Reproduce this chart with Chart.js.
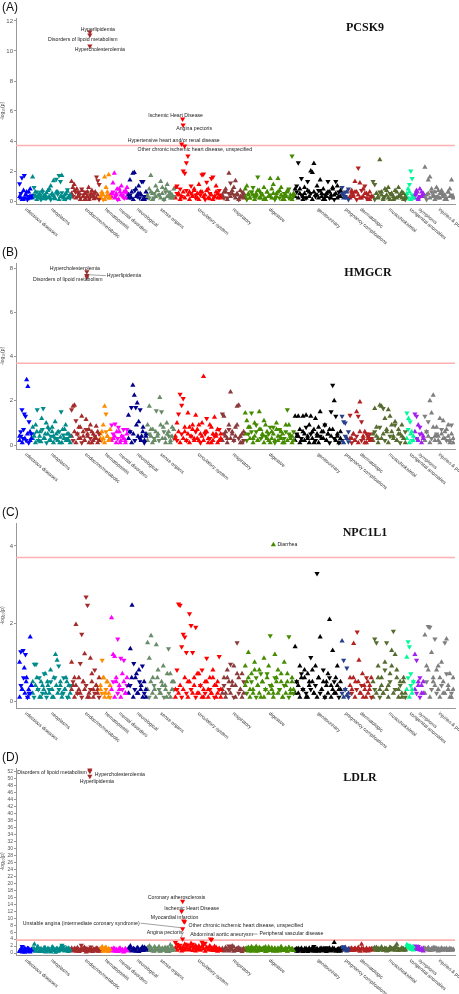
<!DOCTYPE html>
<html>
<head>
<meta charset="utf-8">
<script src="https://cdn.jsdelivr.net/npm/chart.js@4.4.0/dist/chart.umd.min.js"></script>
<style>
  body { margin: 0; background: #fff; font-family: Arial, "Liberation Sans", sans-serif; }
  #wrap { position: relative; width: 459px; height: 994px; overflow: hidden; }
  .panel { position: absolute; left: 0; width: 459px; }
  .tag { position: absolute; left: 2px; top: 1px; font-size: 12px; line-height: 12px; color: #111; }
  .gene { position: absolute; top: 21px; font-family: "Liberation Serif", "DejaVu Serif", serif;
          font-weight: bold; font-size: 12px; line-height: 12px; transform: translateX(-50%); color: #111; }
</style>
</head>
<body>
<div id="wrap"></div>
<script>
const categories = ["infectious diseases", "neoplasms", "endocrine/metabolic", "hematopoietic",
  "mental disorders", "neurological", "sense organs", "circulatory system", "respiratory",
  "digestive", "genitourinary", "pregnancy complications", "dermatologic", "musculoskeletal",
  "congenital anomalies", "symptoms", "injuries & poisonings"];
const categoryColors = ["#0000FF", "#008B8B", "#A52A2A", "#FF8C00", "#FF00FF", "#00008B", "#698B69",
  "#FF0000", "#8B3A3A", "#458B00", "#000000", "#27408B", "#B22222", "#556B2F", "#00FA9A",
  "#A020F0", "#7F7F7F"];
// number of phecode slots each category takes on the x axis
const categorySpan = [13, 39, 29, 11, 17, 19, 28, 47, 23, 50, 47, 8, 23, 34, 8, 10, 30];
const axisStart = 3;
const axisEnd = 440;
const threshold = 3.7;

// -log10(p) per phenotype, one list per category; sign = direction (+ up, - down triangle)
// the "...Low" lists hold the dense cloud of weak associations at the bottom
const pcsk9Values = [
  [-1.15, 0.2, -1.55, 0.1, -1.7, 0.4, 0.6, 0.15, -0.3, 0.8, 0.25],
  [1.6, -0.9, 0.3, -0.6, 0.2, 0.45, -0.1, 0.7, 0.35, -0.2, 0.55, -0.25, 0.8, 1.0, -0.4, 1.35, 0.15, -1.45, 0.6, -1.7, -1.3, 1.7, -0.3, 0.1, 0.5, -0.75, 0.2, 0.4],
  [1.3, 0.9, 1.1, -0.6, 0.8, 0.3, 0.5, -0.2, 0.7, -0.4, 0.1, -0.6, 0.35, 0.9, -0.2, 0.5, 0.3, 0.15, 0.6, -1.6, -1.35, -1.1],
  [0.3, 0.6, -0.1, 1.6, 0.9, 0.4, 1.75, 0.2],
  [0.5, 1.2, 1.85, -0.3, 0.8, 0.1, 0.6, 1.0, -0.4, -0.2, 0.7, 0.9],
  [0.4, 1.4, 0.2, 1.85, 1.9, 0.8, -0.3, 1.0, 0.5, -1.3, -1.3, 0.1, 0.6],
  [0.3, 0.8, 1.7, 0.5, -0.2, 1.0, 0.7, 0.4, 1.3, 0.9, 0.1, -0.6, 1.1, 0.3, 0.5, 0.2, 0.8],
  [0.9, -1.0, 0.5, -0.8, 0.3, -2.0, -1.85, -2.55, -3.0, 0.6, -1.0, 0.3, 0.7, -0.4, 0.2, 1.1, 0.6, -1.75, -1.8, 0.4, -1.25, 0.8, 0.15, -1.5, -1.6, 0.3, 1.0, 0.5, -0.7, 0.2],
  [0.3, 0.6, 0.8, -0.2, 1.85, -1.2, 0.5, 0.9, 1.35, 0.4, 0.1, 0.7, -0.3, 0.5],
  [0.8, 1.0, 0.4, 0.2, -0.6, -0.9, 0.3, 0.5, -1.6, 0.7, 0.2, 0.4, 0.9, 0.1, 0.6, 0.3, 1.5, 0.8, 1.1, 0.2, 0.5, 1.5, 0.7, 0.9, -0.3, 0.1, 0.4, 0.6, -0.8, 0.2, -3.0, 0.5],
  [0.8, -1.0, -2.55, 0.5, -1.5, 0.3, 0.9, 0.2, -1.3, 0.6, 2.0, 1.9, 2.5, 0.4, 1.0, -0.7, 1.4, 0.3, 0.8, 0.1, 0.5, -1.3, 0.6, 0.2, 0.9, 0.4, -1.3, 1.0, 0.3, 0.7],
  [-0.9, 0.4, -0.6, 0.2, -0.8],
  [0.3, 0.7, 0.4, 1.3, 0.6, -2.2, 1.2, 0.2, 0.8, -1.0, 0.5, 0.1, 0.6, 0.3],
  [-1.3, -1.1, 0.5, 0.3, 2.75, 0.6, 0.2, 0.8, 0.4, 0.9, 0.1, 0.5, 0.3, 0.7, 0.2, 0.9, 0.4, 0.6, 0.1, 0.3],
  [0.3, 0.8, -1.1, -2.0, -1.5, 0.2],
  [0.4, 0.7, 0.2, 0.8, 0.3, 0.5],
  [2.25, 0.4, 1.4, 1.6, 0.8, 0.3, 0.6, 0.9, 0.2, 0.5, 0.7, 0.3, 0.4, 0.1, 0.6, 0.8, 1.4, 0.3]
];
const pcsk9Low = [
  [0.3, -0.5, 0.1, 0.7, -0.2, 0.4, -0.1, 0.6, 0.2, -0.35],
  [0.2, -0.4, 0.6, 0.1, -0.3, 0.5, 0.25, -0.6, 0.15, 0.4, -0.2, 0.7, 0.3, -0.1, 0.5, -0.35, 0.2, 0.6, -0.45, 0.1, 0.3, -0.55, 0.2, 0.4, -0.15, 0.65, 0.3, -0.2],
  [0.5, -0.3, 0.7, 0.2, -0.6, 0.4, 0.1, -0.8, 0.3, 0.5, -0.2, 0.6, 0.1, -0.4, 0.7, 0.3, -0.5, 0.2, 0.4, -0.1],
  [0.2, -0.5, 0.4, 0.1, -0.3, 0.6, 0.2, -0.4],
  [0.3, -0.6, 0.2, 0.5, -0.1, 0.8, 0.4, -0.3, 0.6, 0.2, -0.5],
  [0.2, -0.4, 0.6, 0.1, -0.7, 0.3, 0.5, -0.2, 0.4, 0.1, -0.3, 0.2],
  [0.4, -0.2, 0.6, 0.1, -0.5, 0.3, 0.7, -0.4, 0.2, 0.5, -0.1, 0.8, 0.3, -0.6, 0.2, 0.4, -0.3],
  [0.2, -0.5, 0.4, 0.1, -0.3, 0.6, 0.2, -0.7, 0.4, 0.1, -0.5, 0.3, 0.8, -0.2, 0.5, 0.1, -0.4, 0.6, 0.3, -0.1, 0.7, 0.2, -0.5, 0.4, 0.1, -0.3, 0.6, 0.2, -0.4, 0.3],
  [0.4, -0.2, 0.6, 0.1, -0.5, 0.3, 0.7, -0.4, 0.2, 0.5, -0.1, 0.3, -0.6, 0.2],
  [0.3, -0.1, 0.5, 0.2, -0.6, 0.4, 0.1, -0.3, 0.7, 0.2, -0.5, 0.4, 0.1, -0.2, 0.6, 0.3, -0.4, 0.2, 0.5, -0.1, 0.3, 0.6, -0.2, 0.4, 0.1, -0.5, 0.3, 0.7, -0.2, 0.4, 0.1, -0.3],
  [0.3, -0.6, 0.2, 0.8, -0.4, 0.1, 0.5, -0.2, 0.7, 0.3, -0.5, 0.1, 0.6, -0.3, 0.4, 0.2, -0.7, 0.5, 0.1, -0.4, 0.3, 0.6, -0.2, 0.4, 0.8, -0.1, 0.5, 0.2, -0.6, 0.3],
  [-0.5, 0.2, -0.3, 0.6, -0.1],
  [0.2, -0.5, 0.3, 0.6, -0.1, 0.4, 0.2, -0.7, 0.3, 0.5, -0.2, 0.4, 0.1, -0.3],
  [0.3, -0.1, 0.5, 0.2, -0.6, 0.4, 0.1, -0.3, 0.7, 0.2, -0.5, 0.4, 0.1, -0.2, 0.6, 0.3, -0.4, 0.2, 0.5, -0.1],
  [0.5, -0.2, 0.6, 0.1, -0.4, 0.3],
  [0.2, -0.5, 0.1, -0.3, 0.6, 0.4],
  [0.3, -0.1, 0.5, 0.2, -0.6, 0.4, 0.1, -0.3, 0.7, 0.2, -0.5, 0.4, 0.1, -0.2, 0.6, 0.3, -0.4, 0.2]
];
const hmgcrValues = [
  [0.4, -0.6, -1.6, -0.3, -1.4, -1.3, 2.95, 2.65, -1.05, 0.2, -0.5],
  [0.8, 0.4, 0.9, -1.6, 0.2, 0.6, 1.2, -1.65, 0.3, 1.0, 0.5, -0.7, 0.2, 0.8, 0.4, 1.05, -0.3, 0.6, 0.1, -1.5, 0.7, 0.3, 0.9, 0.5, 0.2, 0.4],
  [-1.6, 1.75, 1.8, -1.1, 0.5, 0.8, 0.3, 1.3, 0.6, 0.2, 1.15, 0.4, 0.7, 0.9, 0.1, 0.5, 0.3, 0.85, 0.6, 0.2],
  [0.3, 0.6, 0.9, 1.75, -1.4, 0.4, 0.2, 0.7],
  [-0.9, 0.3, -0.95, 0.6, -0.8, 0.1, 0.4, -0.7, 0.2, 0.5],
  [1.35, 0.6, -1.7, 2.7, 2.25, -1.7, 1.9, 1.05, -1.6, 0.4, 0.8, 0.2, 0.5],
  [0.9, 1.75, 0.4, 0.7, 0.2, -1.55, 0.5, 2.15, -1.5, 0.8, 0.3, 1.0, 0.6, 0.1, 0.4, 0.7],
  [0.3, 1.0, -1.4, -2.3, -1.8, -2.1, 0.6, 0.2, 1.45, 0.8, 0.4, 0.9, 0.3, 1.35, 0.7, 0.2, 0.5, 1.0, 3.1, 0.6, -1.2, 0.3, 0.9, 0.1, 0.5, 1.25, 0.4, 0.7, 0.2, 0.5],
  [-1.4, 1.3, 0.6, 0.3, 0.9, 2.4, 0.5, 0.2, 0.8, 1.75, 1.8, 0.4, 0.1, 0.6],
  [1.45, 1.1, -0.5, 0.8, -1.45, 0.3, 1.0, -0.6, 0.2, 1.5, 0.7, -0.4, 1.1, 0.9, 0.3, -0.5, 0.1, 0.6, -0.8, 0.2, 1.0, 0.4, -0.7, 0.3, 0.5, 0.1, -0.6, -1.6, 0.9, 0.3, 0.4, 0.2],
  [1.3, 0.4, 1.3, 0.7, 0.2, 1.3, 0.5, 1.35, 0.3, 0.9, 1.3, 0.6, 0.1, 1.2, 0.4, 0.8, 1.5, 0.3, 0.6, 0.9, 0.2, 0.5, 0.7, -1.5, -2.7, 2.0, -1.3, 0.4, 0.1, 0.6],
  [-1.3, -1.05, -1.0, 0.3, -0.6],
  [-1.35, 0.3, 0.5, 0.2, 1.5, -1.3, 1.95, -1.05, 0.4, 0.6, 0.1, 0.3, -0.5, 0.2],
  [0.5, 1.65, 0.8, 0.3, 1.8, 1.75, -1.65, 1.2, 0.6, 1.6, 1.3, 0.9, 0.4, 1.05, 0.2, 0.7, 0.5, 0.9, 0.3, 0.1],
  [-1.45, 1.2, -1.05, 0.6, 0.2],
  [-1.4, -1.3, 0.9, -0.8, 0.5, 0.3],
  [-1.3, 0.6, -1.05, 2.0, 1.45, 2.25, 0.4, 0.8, 0.2, 1.2, 0.5, 1.1, 0.3, 0.7, 0.9, 0.2, 0.5, 0.1]
];
const hmgcrLow = [
  [0.2, -0.4, 0.1, -0.7, 0.3, -0.2, 0.5, -0.1, 0.6, 0.3],
  [0.3, -0.5, 0.1, 0.6, -0.2, 0.4, 0.15, -0.7, 0.3, 0.5, -0.1, 0.8, 0.2, -0.4, 0.6, 0.1, -0.3, 0.5, 0.2, -0.6, 0.35, 0.1, -0.45, 0.7, 0.2, -0.3, 0.5, 0.1],
  [0.4, -0.2, 0.6, 0.1, -0.5, 0.3, 0.8, -0.1, 0.4, 0.2, -0.7, 0.5, 0.1, -0.3, 0.6, 0.2, -0.4, 0.3, 0.1, -0.5],
  [0.5, -0.2, 0.3, 0.1, -0.6, 0.4, 0.2, -0.3],
  [0.2, -0.5, 0.4, 0.1, -0.3, 0.6, 0.2, -0.4, 0.3, 0.1, -0.7],
  [0.3, -0.6, 0.1, 0.5, -0.2, 0.9, 0.4, -0.3, 0.2, 0.6, -0.1, 0.4],
  [0.2, -0.5, 0.7, 0.1, -0.3, 0.6, 0.4, -0.2, 0.9, 0.3, -0.6, 0.1, 0.5, -0.4, 0.2, 0.8, -0.3],
  [0.4, -0.2, 0.6, 0.1, -0.5, 0.3, 0.8, -0.2, 0.5, 0.1, -0.4, 0.7, 0.2, -0.6, 0.3, 0.9, -0.1, 0.4, 0.2, -0.5, 0.6, 0.1, -0.3, 0.8, 0.2, -0.4, 0.5, 0.1, -0.7, 0.3],
  [0.2, -0.5, 0.4, 0.1, -0.7, 0.3, 0.6, -0.2, 0.4, 0.9, -0.3, 0.1, 0.5, -0.2],
  [0.5, -0.2, 0.8, 0.3, -0.6, 0.1, 0.4, -0.9, 0.2, 0.7, -0.3, 0.5, 0.1, -0.4, 0.6, 0.2, -0.8, 0.3, 0.5, -0.1, 0.7, 0.2, -0.4, 0.6, 0.1, -0.3, 0.9, 0.2, -0.5, 0.4, 0.1, -0.6],
  [0.2, -0.5, 0.4, 0.1, -0.3, 0.6, 0.2, -0.8, 0.4, 0.1, -0.5, 0.3, 0.7, -0.2, 0.5, 0.1, -0.4, 0.6, 0.3, -0.9, 0.2, 0.5, -0.1, 0.4, 0.7, -0.3, 0.2, 0.5, -0.1, 0.3],
  [-0.2, 0.1, -0.4, 0.3, -0.15],
  [0.3, -0.1, 0.5, 0.2, -0.4, 0.1, 0.6, -0.2, 0.3, 0.1, -0.5, 0.4, 0.2, -0.3],
  [0.2, -0.6, 0.4, 0.1, -0.8, 0.3, 0.5, -0.2, 0.7, 0.1, -0.4, 0.6, 0.3, -0.9, 0.2, 0.5, -0.1, 0.4, 0.3, -0.6],
  [0.3, -0.7, 0.1, 0.5, -0.2, 0.4],
  [0.6, -0.3, 0.2, -0.5, 0.1, 0.4],
  [0.2, -0.6, 0.4, 0.1, -0.3, 0.8, 0.2, -0.5, 0.4, 0.1, -0.7, 0.3, 0.6, -0.2, 0.4, 0.1, -0.9, 0.3]
];
const npc1l1Values = [
  [1.0, -1.27, 0.3, -1.3, 0.85, -1.2, 0.6, 0.1, -0.2, 1.65, 0.4],
  [0.5, -0.95, -0.95, 0.3, -0.6, 0.1, 0.4, -0.7, 0.2, 0.5, -0.3, 0.8, 0.1, 0.6, 1.2, 1.05, -0.9, 0.4, 0.2, -0.6, 0.3, 0.5, 0.1, -0.4],
  [1.0, 0.4, 0.6, 1.97, 0.2, 0.3, -0.97, -1.72, 0.5, 1.22, -2.68, -2.47, 0.1, 1.1, 0.7, 0.3, -0.8, 0.4, 0.2, 0.6],
  [0.3, -1.05, 0.6, 0.2, 0.5, 0.1, 0.4],
  [2.15, 1.2, 1.15, 0.5, -1.6, 0.3, -1.1, 0.7, -1.05, 0.2, 0.6],
  [0.4, 1.35, 2.47, -0.97, 0.6, 0.2, 0.8, 0.3, -0.9, 0.5, 0.1],
  [1.5, 1.1, 1.68, 0.6, 0.3, 1.45, 0.8, 0.2, 0.5, 0.9, 0.4, 0.1, -1.35, 0.7, 0.3, 0.5],
  [0.3, -0.8, -2.5, -2.47, -1.4, -1.72, -1.65, -1.25, 0.5, -2.25, -1.95, -1.25, 0.6, -1.9, 0.2, 0.7, 0.4, -0.8, 0.1, 0.5, -1.1, 0.3, 0.6, 0.2, 0.8, 0.4, 0.1, 0.5, -1.15, 0.3],
  [0.3, 0.6, 0.2, 0.8, 0.5, -0.95, 0.4, 0.9, 0.1, -1.5, 0.6, 0.3, 0.7, 0.2],
  [0.9, 0.5, 1.25, 0.3, 0.7, 0.2, 1.0, -0.6, 0.4, 0.8, 0.1, 0.5, 1.1, 0.3, -0.7, 0.9, -1.68, 0.4, 0.2, 1.2, 0.6, 0.8, -0.3, 0.5, 0.1, 1.0, 0.4, 0.7, -1.66, 0.2, 0.5, 0.3],
  [1.4, 0.5, 0.2, 0.9, 0.6, -0.3, 0.8, 0.1, 0.7, 0.4, -1.12, 0.5, 0.2, 0.9, -3.29, 0.6, 1.65, 0.3, -0.8, 0.1, 0.5, 0.7, 2.1, 0.4, 1.3, 0.2, 0.6, 0.9, 0.3, 0.5],
  [1.55, -1.05, 0.3, -0.85, 0.2],
  [0.6, 0.3, 1.48, 0.5, -1.78, 1.05, 0.2, 0.7, 0.4, 0.1, 0.5, 0.3, 0.6],
  [0.5, -1.6, -1.5, 0.9, 0.3, 0.6, 0.2, 1.0, -1.5, 0.4, 0.7, 1.3, -1.8, 1.2, 0.8, 0.3, 0.5, 0.1, 0.6, 0.2],
  [1.13, -1.53, -1.4, -0.7, 0.3, -0.5],
  [1.2, -1.05, 0.4, -0.6, 0.2, 0.5],
  [1.7, 0.9, -1.92, -1.9, 1.25, 0.5, -1.6, 0.8, 0.3, 0.6, 1.0, 0.2, -1.5, 1.6, 0.4, 0.7, 0.1, 0.3]
];
const npc1l1Low = [
  [0.1, -0.4, 0.3, -0.6, 0.2, 0.5, -0.1, 0.3, -0.2, 0.4],
  [0.2, -0.1, 0.4, 0.6, -0.3, 0.1, 0.5, -0.2, 0.3, 0.7, -0.1, 0.4, 0.2, -0.5, 0.3, 0.1, -0.6, 0.4, 0.2, -0.3, 0.5, 0.1, -0.2, 0.3, 0.6, -0.1, 0.4, 0.2],
  [0.3, -0.5, 0.1, 0.4, -0.2, 0.6, 0.2, -0.1, 0.5, 0.3, -0.4, 0.1, 0.2, -0.3, 0.5, 0.1, -0.2, 0.4, 0.3, -0.1],
  [0.4, -0.2, 0.6, 0.1, -0.3, 0.5, 0.2, -0.1],
  [0.3, -0.5, 0.1, 0.6, -0.2, 0.4, 0.1, -0.3, 0.5, 0.2, -0.4],
  [0.2, -0.4, 0.6, 0.1, -0.3, 0.7, 0.2, -0.5, 0.4, 0.1, -0.2, 0.3],
  [0.3, -0.1, 0.5, 0.2, -0.4, 0.1, 0.6, -0.3, 0.2, 0.4, -0.1, 0.3, 0.7, -0.2, 0.1, 0.5, -0.3],
  [0.1, -0.3, 0.2, 0.4, -0.1, 0.3, 0.6, -0.2, 0.1, 0.5, -0.3, 0.2, 0.4, -0.1, 0.7, 0.2, -0.4, 0.1, 0.3, -0.2, 0.5, 0.1, -0.3, 0.2, 0.6, -0.1, 0.4, 0.2, -0.3, 0.1],
  [0.2, -0.4, 0.1, 0.6, -0.3, 0.2, 0.5, -0.1, 0.4, 0.7, -0.2, 0.3, 0.1, -0.5],
  [0.4, -0.2, 0.6, 0.1, -0.5, 0.3, 0.8, -0.1, 0.4, 0.2, -0.7, 0.5, 0.1, -0.3, 0.6, 0.2, -0.4, 0.3, 0.1, -0.6, 0.5, 0.2, -0.3, 0.7, 0.1, -0.4, 0.2, 0.5, -0.1, 0.3, 0.6, -0.2],
  [0.2, -0.5, 0.4, 0.1, -0.7, 0.3, 0.6, -0.2, 0.1, 0.5, -0.3, 0.8, 0.2, -0.4, 0.1, 0.6, -0.2, 0.3, 0.5, -0.1, 0.4, 0.2, -0.6, 0.1, 0.3, -0.5, 0.2, 0.4, -0.1, 0.3],
  [-0.2, 0.1, -0.3, 0.15, -0.1],
  [0.4, -0.2, 0.6, 0.1, -0.3, 0.5, 0.2, -0.4, 0.1, 0.3, -0.6, 0.2, 0.4, -0.1],
  [0.1, -0.3, 0.2, 0.6, -0.1, 0.4, 0.2, -0.8, 0.3, 0.1, -0.5, 0.9, 0.2, -0.3, 0.6, 0.1, -0.4, 0.2, 0.5, -0.1],
  [0.3, -0.6, 0.1, -0.4, 0.2, 0.5],
  [0.3, -0.2, 0.5, -0.1, 0.4, 0.2],
  [0.2, -0.5, 0.8, 0.1, -0.3, 0.6, 0.4, -0.2, 0.9, 0.1, -0.4, 0.5, 0.2, -0.7, 0.3, 0.1, -0.2, 0.6]
];
const ldlrValues = [
  [0.4, 1.0, -1.9, 0.6, 0.2, 0.9, 1.3, 0.5, 0.3, 0.8],
  [1.2, 2.5, 0.6, 1.8, 0.4, 1.0, 0.7, 1.5, 0.3, 0.9, 1.1, 0.5, 1.7, 0.8, 0.2, 1.3, 0.6, 1.0, -2.2, -1.8, 0.7, 1.4, 0.4, 0.9],
  [1.4, 0.8, 1.2, 0.5, 1.0, 0.6, -2.2, 0.9, 1.6, 0.3, 1.1, 0.7, -1.7, 0.4, 1.0, 0.8, 1.3, 0.5],
  [1.2, 1.8, 0.6, 1.5, 0.9, 0.4, 1.0],
  [0.8, 1.3, 0.5, 1.0, 0.4, 1.4, 0.7, 0.3, 1.1, 0.6],
  [1.4, 2.0, 0.9, 1.2, 0.6, 1.5, 0.4, 1.0, 1.7, 0.8, 1.3],
  [1.5, 2.0, 1.0, 0.6, 1.8, 0.9, 1.3, 0.5, 1.1, 0.8, 1.6, 0.4, 1.2, 2.3, 0.7, 1.0],
  [-3.0, -2.5, 1.8, -2.2, 1.2, 0.8, 2.5, 1.5, 2.2, 1.0, 2.7, -2.5, 1.8, 0.6, 1.3, 2.0, 1.1, -3.1, 2.4, -2.8, 1.6, 0.9, 2.0, 1.4, 0.7, 1.9, 1.2, 0.5, 1.0, 0.8],
  [1.0, 0.6, 1.4, 0.8, -2.0, 1.2, 2.0, 0.5, 0.9, 1.3, 0.7, 1.1, 0.4, 0.9],
  [1.2, 0.7, 1.6, 1.0, 0.5, 1.4, 0.9, 1.9, 0.6, 1.1, 1.3, 0.8, 1.5, 0.4, 1.0, 1.7, 0.7, 1.2, 0.5, 1.4, 0.9, 1.1, 0.6, 1.8, 1.0, 0.8, 1.3, 0.5, 1.6, 0.9, 1.2, 0.7],
  [1.0, 0.5, 1.3, 0.8, 1.1, 0.4, 1.2, 0.7, 0.9, 1.4, 0.6, 1.0, -1.9, 0.5, 1.1, 0.8, 1.3, 0.6, 1.2, 0.9, -1.5, 0.7, 1.1, 0.8, 1.4, 3.0, 0.5, 1.0, 1.2, 0.6],
  [1.5, -1.8, 1.0, 0.6, 1.2],
  [1.2, 0.7, 1.0, 1.4, 0.9, 1.1, 0.5, 2.5, 1.3, 0.8, 1.0, 0.6, 1.2, 0.9],
  [1.3, 0.9, 1.6, 0.7, 1.1, 1.4, 0.8, 1.2, 0.6, 1.0, 1.5, 1.3, 0.9, 1.7, 2.5, 0.7, 1.1, 1.4, 0.8, 1.0],
  [2.4, -2.2, 1.5, 1.0, 1.8],
  [-2.0, 1.4, -1.9, 0.9, 1.2, 0.6],
  [1.4, 1.0, 1.5, 0.7, 1.2, 1.5, 0.9, 1.3, 0.6, 1.1, 1.4, 0.8, 1.2, 1.0, 0.7, 1.3, 1.1, 0.9]
];
const ldlrLow = [
  [0.6, 1.1, 0.3, 0.9, 1.4, 0.5, 0.8, 1.2, 0.4, 1.0],
  [0.8, 1.3, 0.5, 1.1, 1.6, 0.7, 1.2, 0.4, 1.0, 1.5, 0.6, 1.3, 0.9, 0.3, 1.1, 1.4, 0.7, 1.2, 0.5, 1.0, 1.6, 0.8, 1.3, 0.6, 1.1, 0.9, 1.4, 0.7],
  [1.0, 0.6, 1.3, 0.8, 1.5, 0.4, 1.1, 0.9, 1.4, 0.7, 1.2, 0.5, 1.0, 1.3, 0.6, 1.1, 0.8, 1.4, 0.5, 1.0],
  [0.8, 1.3, 0.5, 1.1, 1.6, 0.7, 1.2, 0.9],
  [1.1, 0.6, 1.2, 0.9, 0.4, 1.3, 0.7, 1.0, 0.5, 1.2, 0.8],
  [0.9, 1.5, 0.6, 1.2, 1.0, 0.5, 1.4, 0.8, 1.1, 0.7, 1.6, 0.9],
  [1.2, 0.7, 1.6, 1.0, 0.5, 1.3, 0.9, 1.8, 0.6, 1.4, 1.1, 0.8, 1.5, 0.4, 1.2, 1.7, 0.9],
  [1.5, 0.8, 2.0, 1.2, 0.6, 1.7, 1.0, 2.2, 0.9, 1.4, 1.8, 0.7, 1.3, 2.1, 1.0, 1.6, 0.8, 1.9, 1.2, 0.5, 1.5, 1.1, 1.8, 0.9, 1.4, 0.7, 1.6, 1.0, 1.3, 0.8],
  [1.3, 0.8, 1.6, 1.0, 0.6, 1.4, 0.9, 1.7, 0.7, 1.2, 1.5, 0.8, 1.1, 1.3],
  [0.9, 1.4, 0.6, 1.2, 1.8, 0.8, 1.3, 0.5, 1.1, 1.6, 0.7, 1.2, 1.0, 1.7, 0.6, 1.3, 0.9, 1.5, 0.8, 1.2, 0.5, 1.4, 1.0, 1.6, 0.7, 1.1, 1.3, 0.6, 1.5, 0.9, 1.2, 0.8],
  [0.8, 1.2, 0.5, 1.0, 1.4, 0.7, 0.9, 1.3, 0.4, 1.1, 0.8, 1.5, 0.6, 1.0, 1.2, 0.5, 0.9, 1.3, 0.7, 1.1, 0.4, 1.0, 1.4, 0.6, 0.9, 1.2, 0.7, 1.0, 0.5, 1.3],
  [1.2, 0.8, 1.6, 1.0, 0.7],
  [1.0, 1.4, 0.7, 1.2, 0.9, 1.6, 0.8, 1.3, 1.1, 0.6, 1.4, 1.0, 0.8, 1.2],
  [1.1, 1.5, 0.8, 1.3, 1.0, 1.7, 0.9, 1.4, 1.2, 0.7, 1.6, 1.0, 1.3, 0.8, 1.5, 1.1, 0.9, 1.4, 1.2, 0.8],
  [1.6, 2.0, 1.2, 1.8, 1.4, 0.9],
  [1.5, 1.0, 1.7, 1.2, 0.8, 1.4],
  [1.2, 0.9, 1.4, 1.1, 0.8, 1.3, 1.5, 1.0, 1.2, 0.7, 1.4, 1.1, 0.9, 1.3, 1.0, 1.2, 0.8, 1.1]
];

// labelled phenotypes: [name, phecode position, signed -log10(p)]
const pcsk9Hits = [
  ["Hyperlipidemia", 74, -11.27],
  ["Disorders of lipoid metabolism", 74, -11.07],
  ["Hypercholesterolemia", 74, -10.33],
  ["Ischemic Heart Disease", 167, -5.47],
  ["Angina pectoris", 167.5, -5.07],
  ["Hypertensive heart and/or renal disease", 166, -3.8],
  ["Other chronic ischemic heart disease, unspecified", 169, -3.67]
];
const hmgcrHits = [
  ["Hypercholesterolemia", 71, -7.84],
  ["Hyperlipidemia", 71, -7.66],
  ["Disorders of lipoid metabolism", 71, -7.6]
];
const npc1l1Hits = [
  ["Diarrhea", 258, 4.03]
];
const ldlrHits = [
  ["Disorders of lipoid metabolism", 74, -52.6],
  ["Hypercholesterolemia", 74, -52.2],
  ["Hyperlipidemia", 74, -50.8],
  ["Coronary atherosclerosis", 167, -14.9],
  ["Ischemic Heart Disease", 166, -12.0],
  ["Myocardial infarction", 168, -9.2],
  ["Other chronic ischemic heart disease, unspecified", 169, -9.0],
  ["Unstable angina (intermediate coronary syndrome)", 167, -7.0],
  ["Angina pectoris", 167, -4.0],
  ["Abdominal aortic aneurysm", 195, -4.0],
  ["Peripheral vascular disease", 196, -3.9]
];

// label placement (px offsets from the marker, alignment, leader style)
const pcsk9LabelPos = [[8, -2, "center"], [-7, 5, "center"], [10, 4, "center"], [-7, -3, "center"],
  [11, 4, "center"], [-8, -3, "center"], [-47, 4, "left"]];
const hmgcrLabelPos = [[-12, -3.5, "center"], [20, 0, "left", "point"], [-19, 3, "center"]];
const npc1l1LabelPos = [[4, 0, "left"]];
const ldlrLabelPos = [[-3, 3, "right"], [5, 3, "left"], [7, 5, "center"], [-6, -4, "center"],
  [10, -3, "center"], [-9, -3, "center"], [4, 3.5, "left"], [-43, -5.5, "right", "point"],
  [-18, -7, "center", "point"], [11, -5, "center"], [48, -5.4, "left", "dash"]];

const panels = [
  { tag: "(A)", gene: "PCSK9", geneX: 365, top: 0, height: 245, bottom: 204, values: pcsk9Values, low: pcsk9Low,
    hits: pcsk9Hits, labelPos: pcsk9LabelPos, yMin: -0.2, yMax: 12.2, tickFont: 6 },
  { tag: "(B)", gene: "HMGCR", geneX: 368, top: 245, height: 245, bottom: 204, values: hmgcrValues, low: hmgcrLow,
    hits: hmgcrHits, labelPos: hmgcrLabelPos, yMin: -0.18, yMax: 8.23, tickFont: 6 },
  { tag: "(C)", gene: "NPC1L1", geneX: 365, top: 505, height: 245, bottom: 203, values: npc1l1Values, low: npc1l1Low,
    hits: npc1l1Hits, labelPos: npc1l1LabelPos, yMin: -0.18, yMax: 4.59, tickFont: 6 },
  { tag: "(D)", gene: "LDLR", geneX: 360, top: 750, height: 244, bottom: 205, values: ldlrValues, low: ldlrLow,
    hits: ldlrHits, labelPos: ldlrLabelPos, yMin: -0.57, yMax: 53.14, tickFont: 5 }
];

function categoryOf(x) {
  let s = axisStart;
  for (let i = 0; i < categorySpan.length; i++) {
    s += categorySpan[i];
    if (x < s) return i;
  }
  return categorySpan.length - 1;
}

// spread a category's values evenly over its slot range
function toPoints(vals, start, span) {
  return vals.map((v, i) => ({ x: start + (i + 0.5) * span / vals.length, y: Math.abs(v), d: Math.sign(v) }));
}

const textPlugin = {
  id: "phewasText",
  afterDatasetsDraw(chart, args, opts) {
    const { ctx, chartArea } = chart;
    const xs = chart.scales.x, ys = chart.scales.y;
    const p = opts.panel;
    ctx.save();
    ctx.fillStyle = "#2a2a2a";
    ctx.font = '4.9px Arial, "Liberation Sans", sans-serif';
    ctx.textAlign = "left";
    ctx.textBaseline = "middle";
    let start = axisStart;
    categories.forEach((name, i) => {
      const mid = start + categorySpan[i] / 2;
      start += categorySpan[i];
      ctx.save();
      ctx.translate(xs.getPixelForValue(mid), chartArea.bottom + 5);
      ctx.rotate(40 * Math.PI / 180);
      ctx.fillText(name, 0, 0);
      ctx.restore();
    });

    ctx.font = '5.2px Arial, "Liberation Sans", sans-serif';
    ctx.fillStyle = "#222";
    ctx.strokeStyle = "#444";
    ctx.lineWidth = 0.5;
    p.hits.forEach((h, i) => {
      const [dx, dy, align, leader] = p.labelPos[i];
      const px = xs.getPixelForValue(h[1]);
      const py = ys.getPixelForValue(Math.abs(h[2]));
      const lx = px + dx, ly = py + dy;
      ctx.textAlign = align;
      const w = ctx.measureText(h[0]).width;
      if (leader === "point") {
        const sx = align === "right" ? lx + 1 : align === "left" ? lx - 1 : lx + w / 2 + 1;
        ctx.beginPath();
        ctx.moveTo(sx, ly);
        ctx.lineTo(px - 2, py - 1);
        ctx.stroke();
      } else if (leader === "dash") {
        ctx.beginPath();
        ctx.moveTo(lx - 7, ly);
        ctx.lineTo(lx - 2, ly);
        ctx.stroke();
      }
      ctx.fillText(h[0], lx, ly);
    });
    ctx.restore();
  }
};

const wrap = document.getElementById("wrap");

panels.forEach(p => {
  const div = document.createElement("div");
  div.className = "panel";
  div.style.top = p.top + "px";
  div.style.height = p.height + "px";
  const canvas = document.createElement("canvas");
  canvas.width = 459;
  canvas.height = p.height;
  div.appendChild(canvas);
  const tag = document.createElement("div");
  tag.className = "tag";
  tag.textContent = p.tag;
  div.appendChild(tag);
  const gene = document.createElement("div");
  gene.className = "gene";
  gene.style.left = p.geneX + "px";
  gene.textContent = p.gene;
  div.appendChild(gene);
  wrap.appendChild(div);

  const datasets = [];
  let start = axisStart;
  categorySpan.forEach((span, ci) => {
    const col = categoryColors[ci];
    datasets.push({ data: toPoints(p.low[ci], start, span), backgroundColor: col, borderColor: col, order: 2 });
    datasets.push({ data: toPoints(p.values[ci], start, span), backgroundColor: col, borderColor: col, order: 1 });
    start += span;
  });
  const hitColors = p.hits.map(h => categoryColors[categoryOf(h[1])]);
  datasets.push({
    data: p.hits.map(h => ({ x: h[1], y: Math.abs(h[2]), d: Math.sign(h[2]) })),
    backgroundColor: hitColors, borderColor: hitColors, order: 0
  });
  // significance threshold
  datasets.push({
    data: [{ x: 0, y: threshold }, { x: axisEnd, y: threshold }],
    showLine: true, borderColor: "#FFB0B0", borderWidth: 1.6, pointRadius: 0, order: 10
  });

  new Chart(canvas, {
    type: "scatter",
    data: { datasets },
    plugins: [textPlugin],
    options: {
      responsive: false,
      animation: false,
      devicePixelRatio: 1,
      layout: { padding: { top: 18, right: 4, left: 0, bottom: 0 } },
      elements: {
        point: {
          pointStyle: "triangle",
          radius: 3,
          borderWidth: 0,
          rotation: c => (c.raw && c.raw.d < 0 ? 180 : 0)
        }
      },
      plugins: {
        legend: { display: false },
        tooltip: { enabled: false },
        phewasText: { panel: p }
      },
      scales: {
        x: {
          type: "linear", min: 0, max: axisEnd,
          grid: { display: false },
          ticks: { display: false },
          border: { display: true, color: "#999", width: 1 },
          afterFit: s => { s.height = p.height - p.bottom; }
        },
        y: {
          type: "linear", min: p.yMin, max: p.yMax,
          ticks: { stepSize: 2, includeBounds: false, autoSkip: false, padding: 1,
                   color: "#555", font: { size: p.tickFont, family: 'Arial, "Liberation Sans", sans-serif' } },
          grid: { drawOnChartArea: false, tickLength: 2, color: "#999" },
          border: { display: true, color: "#999", width: 1 },
          title: { display: true, text: "-log\u2081\u2080(p)", color: "#444", padding: 0,
                   font: { size: 5, family: 'Arial, "Liberation Sans", sans-serif' } },
          afterFit: s => { s.width = 16; }
        }
      }
    }
  });
});
</script>
</body>
</html>
